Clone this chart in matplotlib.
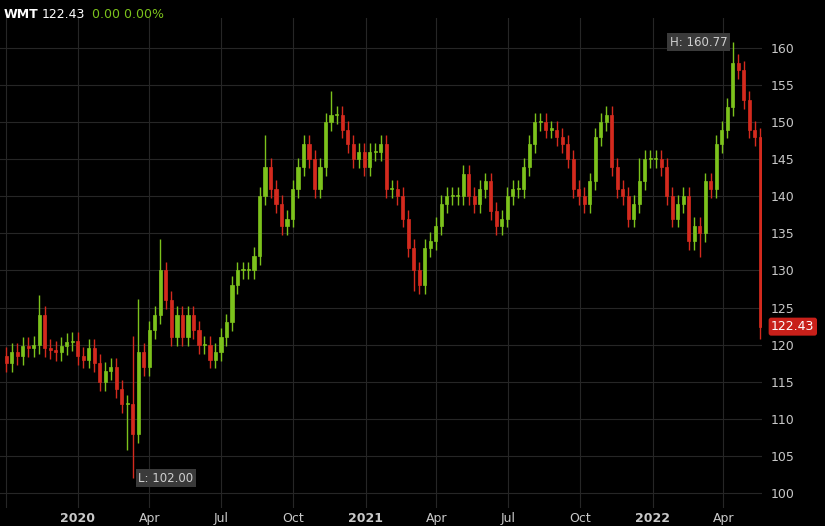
import matplotlib
matplotlib.use("Agg")
import matplotlib.pyplot as plt
import matplotlib.dates as mdates
import numpy as np
import pandas as pd

week_start = "2019-09-30"
closes = [117.5, 119, 118.5, 119.8, 119.5, 120, 124, 119.5, 119.3, 119, 119.8, 120.4, 120.5, 118.5,
          118, 119.5, 117.5, 115, 116.5, 117, 114, 112, 112, 108, 119, 117, 122, 124, 130, 126, 121,
          124, 121, 124, 122, 120, 120, 118, 119, 121, 123, 128, 130, 130, 130, 132, 140, 144, 141,
          139, 136, 137, 141, 144, 147, 145, 141, 144, 150, 151, 151, 149, 147, 145, 146, 144,
          146, 146, 147, 141, 141, 140, 137, 133, 130, 128, 133, 134, 136, 139, 140, 140, 140,
          143, 140, 139, 141, 142, 138, 136, 137, 140, 141, 141, 144, 147, 150, 150, 149, 149, 148,
          147, 145, 141, 140, 139, 142, 148, 150, 151, 144, 141, 140, 137, 139, 142, 145, 145,
          145, 144, 140, 137, 139, 140, 134, 136, 135, 142, 141, 147, 149, 152, 158, 157, 153,
          149, 148, 122.43]
first_open = 118.5
wick_up = {24: 6.0, 23: 8.0, 28: 3.0, 6: 1.5, 47: 3.0, 59: 2.0, 132: 2.8, 115: 2.0}
wick_dn = {22: 5.0, 23: 6.0, 74: 1.5, 126: 2.0, 137: 0.5}
y_ticks = [100, 105, 110, 115, 120, 125, 130, 135, 140, 145, 150, 155, 160]

dates = pd.date_range(week_start, periods=len(closes), freq="7D") + pd.Timedelta(days=2)
opens = [first_open] + closes[:-1]
highs, lows = [], []
for i, (o, c) in enumerate(zip(opens, closes)):
    highs.append(max(o, c) + 1.2 + wick_up.get(i, 0))
    lows.append(min(o, c) - 1.2 - wick_dn.get(i, 0))
lows[23] = 102.0
highs[132] = 160.77

fig = plt.figure(figsize=(8.25, 5.26), dpi=100, facecolor="black")
ax = fig.add_axes([0, 18/526, 762/825, 490/526], facecolor="black")
up, dn = "#7cc21c", "#d42a1e"
x = mdates.date2num(dates)
for xi, o, h, l, c in zip(x, opens, highs, lows, closes):
    col = up if c >= o else dn
    ax.vlines(xi, l, h, color=col, lw=1)
    ax.bar(xi, max(abs(c - o), 0.15), bottom=min(o, c), width=4, color=col, edgecolor=col, lw=0.5)

ax.set_ylim(97.98, 164.04)
ax.set_xlim(mdates.date2num(pd.Timestamp("2019-09-24")), mdates.date2num(pd.Timestamp("2022-05-20")))
ax.yaxis.tick_right()
ax.set_yticks(y_ticks)
ax.tick_params(axis="y", colors="#c8c8c8", labelsize=9, length=0, pad=6)
ax.xaxis.set_major_locator(mdates.MonthLocator(bymonth=[1, 4, 7, 10]))
def fmt(v, pos):
    d = mdates.num2date(v)
    if d.year == 2019:
        return ""
    return str(d.year) if d.month == 1 else d.strftime("%b")
ax.xaxis.set_major_formatter(plt.FuncFormatter(fmt))
ax.tick_params(axis="x", colors="#c8c8c8", labelsize=9, length=0, pad=3)
fig.canvas.draw()
for lab in ax.get_xticklabels():
    if lab.get_text().isdigit():
        lab.set_fontweight("bold")
ax.grid(True, color="#262626", lw=0.8)
ax.set_axisbelow(True)
for s in ax.spines.values():
    s.set_visible(False)

imax = int(np.argmax(highs)); imin = int(np.argmin(lows))
ax.annotate(f"H: {highs[imax]:.2f}", (x[imax], highs[imax]), xytext=(-4, 0), textcoords="offset points",
            ha="right", va="center", color="#d0d0d0", fontsize=8.5,
            bbox=dict(boxstyle="square,pad=0.2", fc="#3a3a3a", ec="none"))
ax.annotate(f"L: {lows[imin]:.2f}", (x[imin], lows[imin]), xytext=(4, 0), textcoords="offset points",
            ha="left", va="center", color="#d0d0d0", fontsize=8.5,
            bbox=dict(boxstyle="square,pad=0.2", fc="#3a3a3a", ec="none"))
ax.text(1.012, (closes[-1] - 97.98) / (164.04 - 97.98), f"{closes[-1]:.2f}", transform=ax.transAxes,
        color="white", fontsize=9, va="center", ha="left",
        bbox=dict(boxstyle="round,pad=0.2", fc="#c8201a", ec="none"))
fig.text(0.005, 0.985, "WMT", color="white", fontsize=9, fontweight="bold", va="top")
fig.text(0.050, 0.985, "122.43", color="white", fontsize=9, va="top")
fig.text(0.112, 0.985, "0.00 0.00%", color="#7cc21c", fontsize=9, va="top")
fig.savefig("out.png", facecolor="black")
